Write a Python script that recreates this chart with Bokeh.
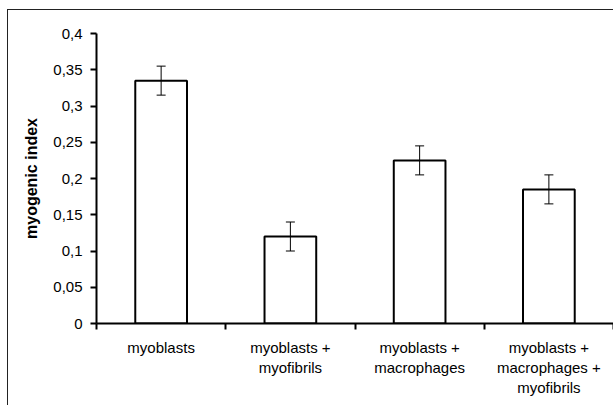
from bokeh.plotting import figure
from bokeh.models import (ColumnDataSource, FixedTicker, Range1d, Whisker, TeeHead)
from bokeh.embed import file_html
from bokeh.resources import INLINE

categories = ["myoblasts", "myoblasts +\nmyofibrils", "myoblasts +\nmacrophages",
              "myoblasts +\nmacrophages +\nmyofibrils"]
values = [0.335, 0.12, 0.225, 0.185]
errors = [0.02, 0.02, 0.02, 0.02]
y_ticks = [0, 0.05, 0.1, 0.15, 0.2, 0.25, 0.3, 0.35, 0.4]
y_tick_labels = ["0", "0,05", "0,1", "0,15", "0,2", "0,25", "0,3", "0,35", "0,4"]

xpos = [i + 0.5 for i in range(len(categories))]
src = ColumnDataSource(dict(
    x=xpos, top=values,
    upper=[v + e for v, e in zip(values, errors)],
    lower=[v - e for v, e in zip(values, errors)],
))

p = figure(width=606, height=396, output_backend="svg", toolbar_location=None,
           x_range=Range1d(0, len(categories)), y_range=Range1d(0, 0.4),
           min_border_left=88, min_border_right=1, min_border_top=23,
           min_border_bottom=83)
p.styles = {"margin-left": "7px", "margin-top": "9px",
            "border-top": "1px solid #222", "border-left": "1px solid #222"}
p.outline_line_color = None
p.xgrid.grid_line_color = None
p.ygrid.grid_line_color = None
p.background_fill_color = "white"
p.border_fill_color = "white"

p.vbar(x="x", top="top", width=0.4, bottom=0, source=src,
       fill_color="white", line_color="black", line_width=2)

w = Whisker(base="x", upper="upper", lower="lower", source=src,
            line_color="black", line_width=1, level="overlay",
            upper_head=TeeHead(size=9, line_color="black", line_width=1),
            lower_head=TeeHead(size=9, line_color="black", line_width=1))
p.add_layout(w)

font = "Liberation Sans"

ya = p.yaxis[0]
ya.ticker = FixedTicker(ticks=y_ticks)
ya.major_label_overrides = {t: l for t, l in zip(y_ticks, y_tick_labels)}
ya.major_tick_out = 6
ya.major_tick_in = 0
ya.minor_tick_line_color = None
ya.axis_line_width = 2
ya.major_tick_line_width = 2
ya.axis_line_color = "black"
ya.major_tick_line_color = "black"
ya.major_label_text_font = font
ya.major_label_text_font_size = "15px"
ya.major_label_text_color = "black"
ya.major_label_standoff = 8
ya.axis_label = "myogenic index"
ya.axis_label_text_font = font
ya.axis_label_text_font_size = "16px"
ya.axis_label_text_font_style = "bold"
ya.axis_label_text_color = "black"
ya.axis_label_standoff = 10

xa = p.xaxis[0]
xa.ticker = FixedTicker(ticks=xpos, minor_ticks=list(range(len(categories) + 1)))
xa.major_label_overrides = {x: c for x, c in zip(xpos, categories)}
xa.major_tick_line_color = None
xa.major_tick_out = 0
xa.major_tick_in = 0
xa.minor_tick_out = 6
xa.minor_tick_in = 0
xa.minor_tick_line_width = 2
xa.minor_tick_line_color = "black"
xa.axis_line_width = 2
xa.axis_line_color = "black"
xa.major_label_text_font = font
xa.major_label_text_font_size = "15px"
xa.major_label_text_color = "black"
xa.major_label_text_line_height = 1.2
xa.major_label_standoff = 9

open("out.html", "w").write(file_html(p, INLINE))
